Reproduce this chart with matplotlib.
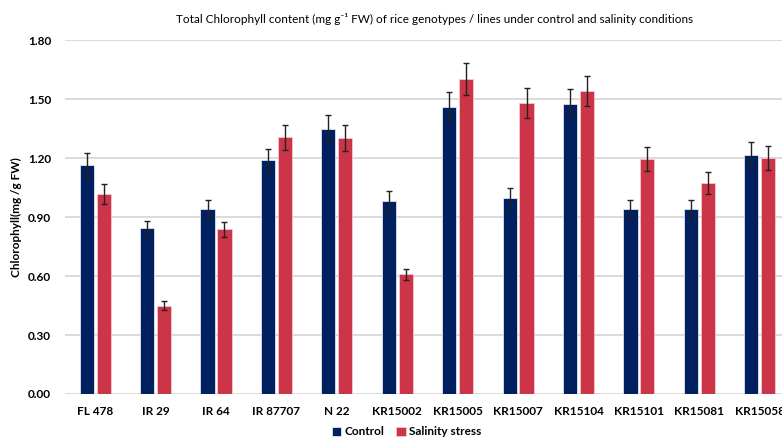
import matplotlib
matplotlib.use("Agg")
import matplotlib.pyplot as plt
import numpy as np

genotypes = ["FL 478", "IR 29", "IR 64", "IR 87707", "N 22", "KR15002",
             "KR15005", "KR15007", "KR15104", "KR15101", "KR15081", "KR15058"]
control = [1.163, 0.842, 0.940, 1.188, 1.349, 0.981,
           1.461, 0.998, 1.474, 0.939, 0.942, 1.217]
control_err = [0.060, 0.040, 0.046, 0.058, 0.068, 0.050,
               0.074, 0.050, 0.075, 0.047, 0.046, 0.063]
salinity = [1.018, 0.449, 0.837, 1.305, 1.303, 0.608,
            1.603, 1.481, 1.540, 1.193, 1.073, 1.200]
salinity_err = [0.050, 0.022, 0.040, 0.064, 0.065, 0.030,
                0.080, 0.076, 0.078, 0.061, 0.054, 0.060]
yticks = [0.0, 0.3, 0.6, 0.9, 1.2, 1.5, 1.8]

plt.rcParams["font.family"] = ["Lato", "DejaVu Sans"]

fig = plt.figure(figsize=(7.82, 4.37), dpi=100)
ax = fig.add_axes([0.0831, 0.0984, 0.927, 0.810])

x = np.arange(len(genotypes))
w = 0.235
off = 0.14
navy = "#002060"
red = "#CC3547"
ekw = dict(ecolor="#222222", elinewidth=1.0, capsize=2, capthick=1.0)

ax.bar(x - off, control, w, color=navy, edgecolor="#dfe3ee", linewidth=0.6,
       yerr=control_err, error_kw=ekw, label="Control", zorder=3)
ax.bar(x + off, salinity, w, color=red, edgecolor="#f2c9cf", linewidth=0.6,
       yerr=salinity_err, error_kw=ekw, label="Salinity stress", zorder=3)

ax.set_xlim(-0.5, len(genotypes) - 0.5)
ax.set_ylim(0, 1.8)
ax.set_yticks(yticks)
ax.set_yticklabels([f"{v:.2f}" for v in yticks], fontsize=8.5, fontweight="bold")
ax.set_xticks(x)
ax.set_xticklabels(genotypes, fontsize=8.5, fontweight="bold")
ax.tick_params(length=0, pad=9)
ax.tick_params(axis="y", pad=10)
ax.yaxis.grid(True, color="#d4d4d4", linewidth=1.2, zorder=0)
ax.set_axisbelow(True)
for s in ax.spines.values():
    s.set_visible(False)

ax.set_ylabel("Chlorophyll(mg /g FW)", fontsize=8.5, fontweight="bold", labelpad=4)

fig.text(0.556, 0.957,
         "Total Chlorophyll content (mg g\u207b\u00b9 FW) of rice genotypes / lines under control and salinity conditions",
         ha="center", va="center", fontsize=8.5)

fig.legend(loc="center", bbox_to_anchor=(0.52, 0.012), ncol=2, frameon=False,
           prop={"weight": "bold", "size": 8.5},
           handlelength=0.8, handleheight=0.8, handletextpad=0.3, columnspacing=1.0)

fig.savefig("out.png", dpi=100)
